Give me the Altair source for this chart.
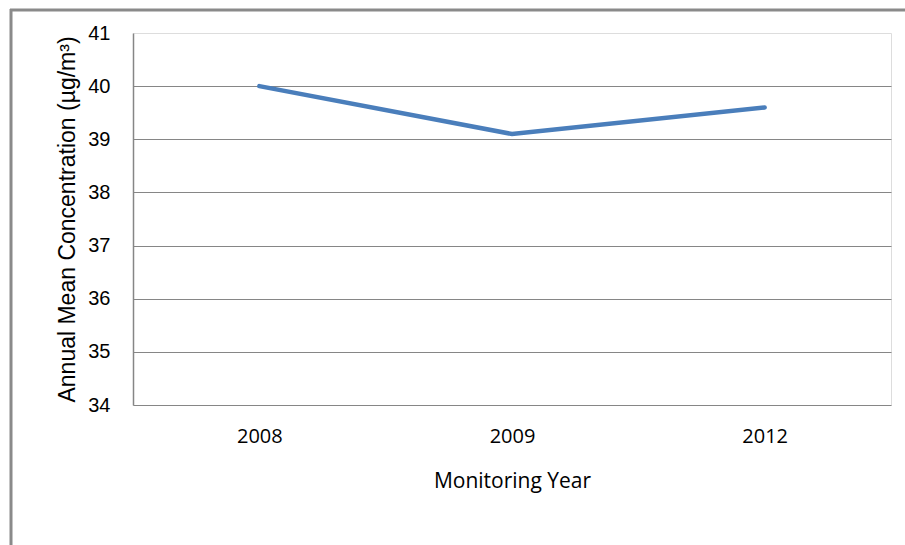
import altair as alt
import pandas as pd

years = ["2008", "2009", "2012"]
concentration = [40.0, 39.1, 39.6]
y_ticks = [34, 35, 36, 37, 38, 39, 40, 41]

df = pd.DataFrame({"year": years, "value": concentration})

line = alt.Chart(df).mark_line(color="#4A7EBB", strokeWidth=4.5, strokeCap="round").encode(
    x=alt.X("year:O", sort=years,
            scale=alt.Scale(type="point", padding=0.5),
            axis=alt.Axis(title="Monitoring Year", labelAngle=0, grid=False,
                          domain=False, ticks=False,
                          labelFont="Open Sans", labelFontSize=20, labelColor="#000",
                          labelPadding=21,
                          titleFont="Open Sans", titleFontSize=21, titleFontWeight="normal",
                          titleColor="#000", titlePadding=24)),
    y=alt.Y("value:Q", scale=alt.Scale(domain=[34, 41], nice=False, zero=False),
            axis=alt.Axis(title="Annual Mean Concentration (µg/m³)", values=y_ticks,
                          grid=True, gridColor="#868686", gridWidth=1,
                          gridOpacity=alt.expr("datum.value < 41 ? 1 : 0"),
                          domain=True, domainColor="#868686", domainWidth=1.5,
                          ticks=False, labelPadding=23,
                          labelFont="Liberation Sans", labelFontSize=20, labelColor="#000",
                          titleFont="Liberation Sans", titleFontSize=23,
                          titleFontWeight="normal", titleColor="#000", titlePadding=8)),
)

frame_left = alt.Chart(alt.Data(values=[{}])).mark_rule(color="#8a8a8a", strokeWidth=3).encode(
    x=alt.value(-122), y=alt.value(-24), y2=alt.value(600)
)
frame_top = alt.Chart(alt.Data(values=[{}])).mark_rule(color="#8a8a8a", strokeWidth=3).encode(
    x=alt.value(-123), x2=alt.value(900), y=alt.value(-23)
)

chart = alt.layer(line, frame_left, frame_top).properties(
    width=758, height=372,
    autosize=alt.AutoSizeParams(type="none"),
    padding={"left": 133, "top": 33, "right": 14, "bottom": 140},
).configure_view(stroke=None).configure(background="white")

chart.save("out.html", embed_options={"renderer": "svg", "actions": False})
